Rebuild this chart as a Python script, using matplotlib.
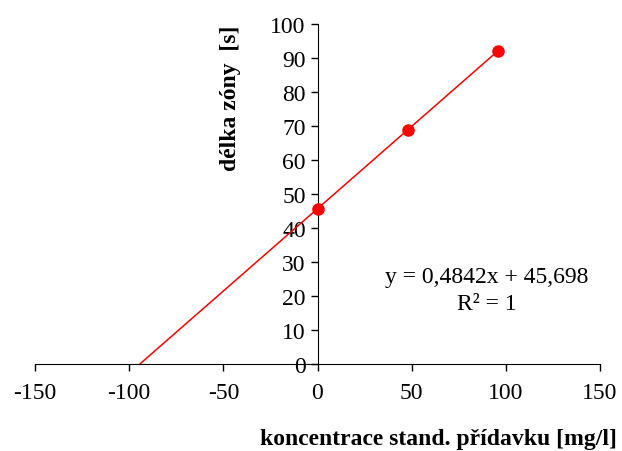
import numpy as np
import matplotlib.pyplot as plt

# standard addition data
koncentrace = [0, 48, 96]
delka_zony = [45.7, 68.9, 92.2]

x_ticks = [-150, -100, -50, 0, 50, 100, 150]
y_ticks = [0, 10, 20, 30, 40, 50, 60, 70, 80, 90, 100]

plt.rcParams['font.family'] = ['Liberation Serif', 'DejaVu Serif']
plt.rcParams['axes.unicode_minus'] = False

fig = plt.figure(figsize=(6.22, 4.52), dpi=100)
ax = fig.add_axes([35/622, 1 - 365/452, 565/622, 340/452])

# linear trendline, extended back to y = 0
slope, intercept = np.polyfit(koncentrace, delka_zony, 1)
x0 = -intercept / slope
xs = np.array([x0, max(koncentrace)])
ax.plot(xs, slope * xs + intercept, color='red', lw=1.1, zorder=2)
ax.plot(koncentrace, delka_zony, 'o', color='red', markersize=8, zorder=3)

ax.set_xlim(-150, 150)
ax.set_ylim(0, 100)
ax.set_xticks(x_ticks)
ax.set_yticks(y_ticks)

ax.spines['left'].set_position(('data', 0))
ax.spines['bottom'].set_position(('data', 0))
ax.spines['top'].set_visible(False)
ax.spines['right'].set_visible(False)
ax.tick_params(direction='out', length=5, labelsize=17, width=1)
ax.tick_params(axis='x', pad=8)

fig.text(487/622, 1 - 278/452, 'y = 0,4842x + 45,698', fontsize=17,
         ha='center', va='center')
fig.text(487/622, 1 - 304/452, 'R² = 1', fontsize=17,
         ha='center', va='center')

# axis titles (Excel places them away from the crossing axes)
fig.text(617/622, 1 - 440/452, 'koncentrace stand. přídavku [mg/l]',
         ha='right', va='center', fontsize=17, fontweight='bold')
fig.text(230/622, 1 - 98/452, 'délka zóny  [s]', rotation=90,
         ha='center', va='center', fontsize=17, fontweight='bold')

fig.savefig('out.png', dpi=100)
